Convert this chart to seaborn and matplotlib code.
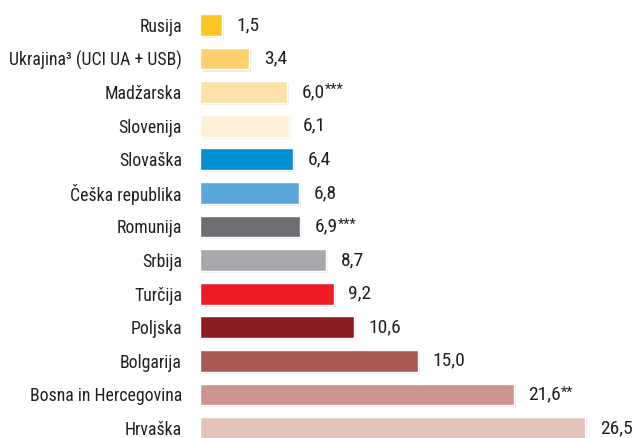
import matplotlib
matplotlib.use("Agg")
import matplotlib.pyplot as plt
import matplotlib.patheffects as pe
import seaborn as sns
import pandas as pd
from matplotlib import font_manager

countries = ["Rusija", "Ukrajina³ (UCI UA + USB)", "Madžarska", "Slovenija", "Slovaška",
             "Češka republika", "Romunija", "Srbija", "Turčija", "Poljska", "Bolgarija",
             "Bosna in Hercegovina", "Hrvaška"]
values = [1.5, 3.4, 6.0, 6.1, 6.4, 6.8, 6.9, 8.7, 9.2, 10.6, 15.0, 21.6, 26.5]
value_labels = ["1,5", "3,4", "6,0", "6,1", "6,4", "6,8", "6,9", "8,7", "9,2", "10,6", "15,0", "21,6", "26,5"]
footnotes = ["", "", "***", "", "", "", "***", "", "", "", "", "**", ""]
colors = ["#FFC425", "#FED170", "#FDE1A8", "#FEF0D4", "#008FD0", "#5AA7DC", "#6D6E71",
          "#A7A9AC", "#ED1C24", "#8B1D22", "#A85A52", "#CC948A", "#E4C4BA"]

sns.set_style("white")
names = {f.name for f in font_manager.fontManager.ttflist}
fam = "Roboto Condensed" if "Roboto Condensed" in names else "Liberation Sans Narrow" if "Liberation Sans Narrow" in names else "Liberation Sans"
plt.rcParams["font.family"] = [fam, "DejaVu Sans"]

df = pd.DataFrame({"country": countries, "value": values})

fig = plt.figure(figsize=(6.35, 4.38), dpi=100)
ax = fig.add_axes([200/635, 0, 435/635, 1])
sns.barplot(data=df, y="country", x="value", hue="country", palette=colors,
            width=0.65, legend=False, ax=ax, saturation=1, orient="h")

for p in ax.patches:
    p.set_path_effects([pe.SimplePatchShadow(offset=(1.5, -1.5), shadow_rgbFace="black", alpha=0.07), pe.Normal()])

ax.set_xlim(0, 435/14.53)
ax.set_ylim(12 + 10/33.6, -25/33.6)
ax.set_xlabel("")
ax.set_ylabel("")
ax.set_xticks([])
ax.tick_params(axis="y", length=0, pad=13, labelsize=12.8, labelcolor="#231F20")
for s in ax.spines.values():
    s.set_visible(False)

for i, (v, lab, fn) in enumerate(zip(values, value_labels, footnotes)):
    t = ax.annotate(lab, xy=(v, i), xytext=(10.5, 0), textcoords="offset points",
                    va="center", ha="left", fontsize=14, color="#231F20")
    if fn:
        ax.annotate(fn, xy=(1, 1.0), xycoords=t, va="top", ha="left",
                    fontsize=10.5, color="#231F20")

fig.savefig("out.png", dpi=100)
